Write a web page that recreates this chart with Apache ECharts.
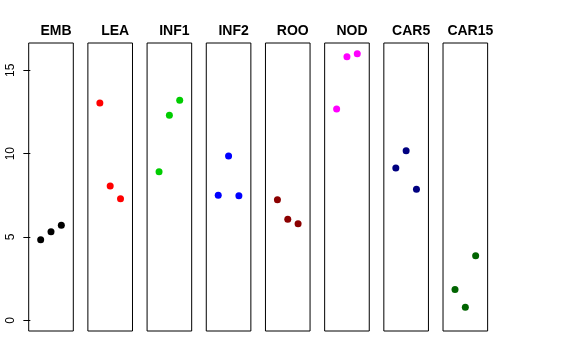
<!DOCTYPE html>
<html>
<head>
<meta charset="utf-8">
<script src="https://cdn.jsdelivr.net/npm/echarts@6/dist/echarts.min.js"></script>
<style>html,body{margin:0;padding:0;background:#fff}#c{width:576px;height:360px}</style>
</head>
<body>
<div id="c"></div>
<script>
const categories = ["EMB","LEA","INF1","INF2","ROO","NOD","CAR5","CAR15"];
const EMB   = [4.84, 5.32, 5.71];
const LEA   = [13.04, 8.06, 7.30];
const INF1  = [8.92, 12.30, 13.20];
const INF2  = [7.50, 9.86, 7.48];
const ROO   = [7.24, 6.07, 5.79];
const NOD   = [12.68, 15.82, 16.00];
const CAR5  = [9.14, 10.18, 7.86];
const CAR15 = [1.85, 0.79, 3.87];
const yTicks = [0, 5, 10, 15];
const values = [EMB, LEA, INF1, INF2, ROO, NOD, CAR5, CAR15];
const colors = ["#000000","#FF0000","#00CD00","#0000FF","#8B0000","#FF00FF","#000080","#006400"];

const chart = echarts.init(document.getElementById('c'), null, {renderer:'canvas'});
const left0 = 28.7, step = 59.19, pw = 44.6, ptop = 43, ph = 288;
const grids = [], xAxes = [], yAxes = [], series = [], titles = [];
categories.forEach((cat, i) => {
  const L = left0 + step * i;
  grids.push({left: L, top: ptop, width: pw, height: ph, show: true, borderColor: '#000', borderWidth: 1, backgroundColor: 'transparent'});
  xAxes.push({type: 'value', gridIndex: i, min: -0.16, max: 4.16, show: false});
  yAxes.push({
    type: 'value', gridIndex: i, min: -0.64, max: 16.64,
    show: i === 0,
    splitLine: {show: false},
    axisLine: {show: false},
    axisTick: {show: true, inside: false, length: 7, lineStyle: {color: '#000'}, customValues: yTicks},
    axisLabel: {show: true, rotate: 90, margin: 12, color: '#000', fontSize: 12, fontFamily: 'Liberation Sans, Arial, sans-serif', customValues: yTicks}
  });
  series.push({
    type: 'scatter', xAxisIndex: i, yAxisIndex: i,
    symbol: 'circle', symbolSize: 7,
    itemStyle: {color: colors[i], opacity: 1},
    silent: true,
    data: values[i].map((v, j) => [j + 1, v])
  });
  titles.push({
    text: cat, left: L + pw / 2, top: 19, textAlign: 'center',
    textStyle: {fontSize: 14, fontWeight: 'bold', color: '#000', fontFamily: 'Liberation Sans, Arial, sans-serif'}
  });
});
chart.setOption({
  animation: false,
  backgroundColor: '#fff',
  title: titles,
  grid: grids,
  xAxis: xAxes,
  yAxis: yAxes,
  series: series
});
</script>
</body>
</html>
